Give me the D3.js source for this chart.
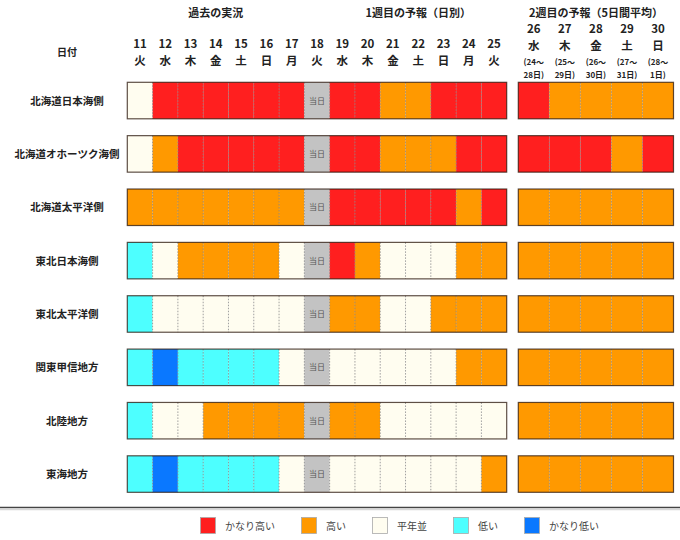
<!DOCTYPE html>
<html>
<head>
<meta charset="utf-8">
<script src="https://cdn.jsdelivr.net/npm/d3@7"></script>
<style>
  body { margin: 0; background: #fff; }
  svg { display: block; font-family: "Noto Sans CJK JP", "Noto Sans", sans-serif; }
</style>
</head>
<body>
<div id="chart"></div>
<script>
// 地域
const regions = ["北海道日本海側", "北海道オホーツク海側", "北海道太平洋側", "東北日本海側",
  "東北太平洋側", "関東甲信地方", "北陸地方", "東海地方"];

// 1週目（日別）: 11日〜25日
const days1 = ["11", "12", "13", "14", "15", "16", "17", "18", "19", "20", "21", "22", "23", "24", "25"];
const wdays1 = ["火", "水", "木", "金", "土", "日", "月", "火", "水", "木", "金", "土", "日", "月", "火"];
const todayIndex = 7;

// 2週目（5日間平均）
const days2 = ["26", "27", "28", "29", "30"];
const wdays2 = ["水", "木", "金", "土", "日"];
const ranges2a = ["(24～", "(25～", "(26～", "(27～", "(28～"];
const ranges2b = ["28日)", "29日)", "30日)", "31日)", "1日)"];

// 階級: VH=かなり高い H=高い N=平年並 L=低い VL=かなり低い T=当日
const week1 = [
  ["N", "VH", "VH", "VH", "VH", "VH", "VH", "T", "VH", "VH", "H", "H", "VH", "VH", "VH"],
  ["N", "H", "VH", "VH", "VH", "VH", "VH", "T", "VH", "VH", "H", "H", "H", "VH", "VH"],
  ["H", "H", "H", "H", "H", "H", "H", "T", "VH", "VH", "VH", "VH", "VH", "H", "VH"],
  ["L", "N", "H", "H", "H", "H", "N", "T", "VH", "H", "N", "N", "N", "H", "H"],
  ["L", "N", "N", "N", "N", "N", "N", "T", "H", "H", "N", "N", "H", "H", "H"],
  ["L", "VL", "L", "L", "L", "L", "N", "T", "N", "N", "N", "N", "N", "H", "H"],
  ["L", "N", "N", "H", "H", "H", "H", "T", "H", "H", "N", "N", "N", "N", "N"],
  ["L", "VL", "L", "L", "L", "L", "N", "T", "N", "N", "N", "N", "N", "N", "H"]
];
const week2 = [
  ["VH", "H", "H", "H", "H"],
  ["VH", "VH", "VH", "H", "VH"],
  ["H", "H", "H", "H", "H"],
  ["H", "H", "H", "H", "H"],
  ["H", "H", "H", "H", "H"],
  ["H", "H", "H", "H", "H"],
  ["H", "H", "H", "H", "H"],
  ["H", "H", "H", "H", "H"]
];

const classes = ["VH", "H", "N", "L", "VL"];
const classLabels = ["かなり高い", "高い", "平年並", "低い", "かなり低い"];
const classColors = ["#ff1f1f", "#ff9900", "#fffdf0", "#4dffff", "#0a78ff"];

const W = 680, H = 540;
const svg = d3.select("#chart").append("svg").attr("width", W).attr("height", H);

const color = d3.scaleOrdinal().domain([...classes, "T"]).range([...classColors, "#c3c3c3"]);

const x1 = d3.scaleBand().domain(days1).range([127.3, 506.7]);
const x2 = d3.scaleBand().domain(days2).range([518.3, 673.5]);
const yRow = d3.scaleBand().domain(regions).range([82.3, 492.3]).paddingInner(0.316).paddingOuter(0);
const labelX = 67;

// 見出し
const head = svg.append("g").attr("fill", "#222").attr("font-weight", "bold").attr("text-anchor", "middle");
const x1Mid = (a, b) => (x1(a) + x1(b) + x1.bandwidth()) / 2;
head.append("text").attr("x", x1Mid("11", "17")).attr("y", 17).attr("font-size", 11).text("過去の実況");
head.append("text").attr("x", x1Mid("19", "25")).attr("y", 17).attr("font-size", 11).text("1週目の予報（日別）");
head.append("text").attr("x", (x2.range()[0] + x2.range()[1]) / 2).attr("y", 17).attr("font-size", 11).text("2週目の予報（5日間平均）");
head.append("text").attr("x", labelX).attr("y", 56).attr("font-size", 10).text("日付");

days1.forEach((d, i) => {
  const cx = x1(d) + x1.bandwidth() / 2;
  head.append("text").attr("x", cx).attr("y", 48).attr("font-size", 11.5).text(d);
  head.append("text").attr("x", cx).attr("y", 65).attr("font-size", 11.5).text(wdays1[i]);
});
days2.forEach((d, i) => {
  const cx = x2(d) + x2.bandwidth() / 2;
  head.append("text").attr("x", cx).attr("y", 33).attr("font-size", 11.5).text(d);
  head.append("text").attr("x", cx).attr("y", 50).attr("font-size", 11.5).text(wdays2[i]);
  head.append("text").attr("x", cx).attr("y", 65).attr("font-size", 8).text(ranges2a[i]);
  head.append("text").attr("x", cx).attr("y", 78).attr("font-size", 8).text(ranges2b[i]);
});

// 行
const rows = svg.selectAll("g.row").data(regions).join("g").attr("class", "row")
  .attr("transform", (d) => `translate(0,${yRow(d)})`);
const rh = yRow.bandwidth();

rows.append("text")
  .attr("x", labelX).attr("y", rh / 2 + 4)
  .attr("text-anchor", "middle").attr("font-size", 10.5).attr("font-weight", "bold").attr("fill", "#222")
  .text((d) => d);

function drawBlock(g, data, x, keys) {
  g.selectAll("rect.cell").data(data).join("rect").attr("class", "cell")
    .attr("x", (d, i) => x(keys[i])).attr("y", 0)
    .attr("width", x.bandwidth()).attr("height", rh)
    .attr("fill", (d) => color(d));
  // 区切りの点線
  g.selectAll("line.sep").data(keys.slice(1)).join("line").attr("class", "sep")
    .attr("x1", (k) => x(k)).attr("x2", (k) => x(k))
    .attr("y1", 0).attr("y2", rh)
    .attr("stroke", "#888").attr("stroke-width", 0.8).attr("stroke-dasharray", "1.5,1.5");
  g.append("rect")
    .attr("x", x.range()[0]).attr("y", 0)
    .attr("width", x.range()[1] - x.range()[0]).attr("height", rh)
    .attr("fill", "none").attr("stroke", "rgba(40,20,10,0.75)").attr("stroke-width", 1.2);
}

rows.each(function (d, r) {
  const g = d3.select(this);
  drawBlock(g.append("g"), week1[r], x1, days1);
  drawBlock(g.append("g"), week2[r], x2, days2);
  g.append("text")
    .attr("x", x1(days1[todayIndex]) + x1.bandwidth() / 2).attr("y", rh / 2 + 3)
    .attr("text-anchor", "middle").attr("font-size", 8).attr("fill", "#555")
    .text("当日");
});

// 区切り線
svg.append("line").attr("x1", 0).attr("x2", W).attr("y1", 507.5).attr("y2", 507.5)
  .attr("stroke", "#444").attr("stroke-width", 1.5);
svg.append("line").attr("x1", 0).attr("x2", W).attr("y1", 509.5).attr("y2", 509.5)
  .attr("stroke", "#d8d8d8").attr("stroke-width", 1.5);

// 凡例
const legend = svg.append("g").attr("transform", "translate(200,517)");
let lx = 0;
classes.forEach((c, i) => {
  const item = legend.append("g").attr("transform", `translate(${lx},0)`);
  item.append("rect").attr("x", 0.5).attr("y", 0.5).attr("width", 15).attr("height", 16)
    .attr("fill", classColors[i]).attr("stroke", "#aaa").attr("stroke-width", 0.8);
  const t = item.append("text").attr("x", 25).attr("y", 12.5)
    .attr("font-size", 10).attr("fill", "#444").text(classLabels[i]);
  lx += 25 + t.node().getComputedTextLength() + 26;
});
</script>
</body>
</html>
